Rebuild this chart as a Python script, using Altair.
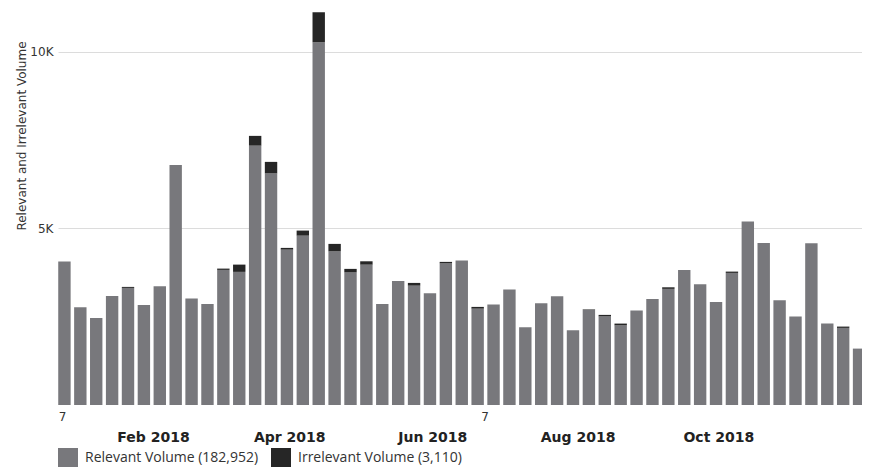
import altair as alt
import pandas as pd

week_start = "2018-01-07"
relevant = [4058, 2765, 2465, 3088, 3314, 2833, 3359, 6795, 3011, 2861,
            3823, 3767, 7341, 6557, 4398, 4794, 10264, 4350, 3755, 3973,
            2861, 3512, 3379, 3161, 4010, 4087, 2728, 2841, 3266, 2199,
            2878, 3076, 2114, 2691, 2510, 2256, 2672, 3003, 3286, 3823,
            3416, 2918, 3738, 5190, 4587, 2963, 2502, 4576, 2304, 2182, 1596]
irrelevant = [0, 0, 0, 0, 28, 0, 0, 0, 0, 0,
              37, 206, 275, 323, 48, 142, 849, 209, 97, 94,
              0, 0, 76, 0, 40, 0, 48, 0, 0, 0,
              0, 0, 0, 15, 40, 48, 0, 0, 45, 0,
              0, 0, 37, 0, 0, 0, 0, 0, 0, 37, 0]
series_names = ["Relevant Volume (182,952)", "Irrelevant Volume (3,110)"]
series_colors = ["#78787c", "#262626"]

tick_dates = ["2018-01-06", "2018-02-15", "2018-04-16", "2018-06-18",
              "2018-07-11", "2018-08-21", "2018-10-22"]
tick_labels = ["7", "Feb 2018", "Apr 2018", "Jun 2018", "7", "Aug 2018", "Oct 2018"]
y_ticks = [5000, 10000]

dates = pd.date_range(week_start, periods=len(relevant), freq="7D")
rows = []
for d, r, i in zip(dates, relevant, irrelevant):
    ds = d.strftime("%Y-%m-%d")
    rows.append({"date": ds, "series": series_names[0], "rank": 0, "value": r})
    rows.append({"date": ds, "series": series_names[1], "rank": 1, "value": i})
df = pd.DataFrame(rows)


def dt(s, hours=0):
    y, m, dd = (int(p) for p in s.split("-"))
    return alt.DateTime(year=y, month=m, date=dd, hours=hours, utc=True)


month_dates = [d for d, l in zip(tick_dates, tick_labels) if len(l) > 2]
arr_dates = "[" + ",".join("'%s'" % d for d in tick_dates) + "]"
arr_labels = "[" + ",".join("'%s'" % l for l in tick_labels) + "]"
arr_months = "[" + ",".join("'%s'" % d for d in month_dates) + "]"
fmt = "utcFormat(datum.value, '%Y-%m-%d')"
label_expr = "%s[indexof(%s, %s)]" % (arr_labels, arr_dates, fmt)
month_test = "indexof(%s, %s) >= 0" % (arr_months, fmt)


def cond(a, b):
    return {"condition": {"test": month_test, "value": a}, "value": b}


x_axis = alt.Axis(
    values=[dt(d) for d in tick_dates],
    labelExpr=label_expr,
    ticks=False, domain=False, grid=False,
    labelFlush=False, labelOverlap=False,
    labelFont="DejaVu Sans",
    labelFontSize=cond(14, 12),
    labelFontWeight=cond("bold", "normal"),
    labelPadding=cond(25, 6),
    labelColor=cond("#222222", "#333333"),
    labelAlign="center", labelBaseline="top",
)

y_axis = alt.Axis(
    values=y_ticks,
    labelExpr="datum.value / 1000 + 'K'",
    ticks=False, domain=False, grid=True,
    gridColor="#dcdcdc", gridWidth=1,
    labelFont="DejaVu Sans", labelFontSize=12, labelColor="#333333",
    labelPadding=5,
    titleFont="DejaVu Sans", titleFontSize=12, titleFontWeight="normal",
    titleColor="#333333", titleX=-33, titleY=124.5, titleBaseline="alphabetic",
)

chart = alt.Chart(df).mark_bar(width=12.4, clip=True).encode(
    x=alt.X("date:T", title=None,
            scale=alt.Scale(type="utc", padding=0,
                            domain=[dt("2018-01-04", 4), dt("2018-12-24", 7)]),
            axis=x_axis),
    y=alt.Y("value:Q", stack="zero", title="Relevant and Irrelevant Volume",
            scale=alt.Scale(domain=[0, 11150], nice=False), axis=y_axis),
    color=alt.Color("series:N", title=None,
                    scale=alt.Scale(domain=series_names, range=series_colors),
                    legend=alt.Legend(orient="none", legendX=0, legendY=437,
                                      direction="horizontal", symbolType="square",
                                      symbolSize=400, symbolStrokeWidth=0,
                                      labelFont="Open Sans", labelFontSize=14,
                                      labelColor="#333333", labelOffset=7,
                                      labelLimit=400, columnPadding=12)),
    order=alt.Order("rank:Q"),
).properties(
    width=804, height=394,
    padding={"left": 50, "top": 3, "right": 0, "bottom": 62},
    autosize=alt.AutoSizeParams(type="none"),
    background="white",
).configure_view(strokeWidth=0)

chart.save("out.html", embed_options={"renderer": "svg", "actions": False})
